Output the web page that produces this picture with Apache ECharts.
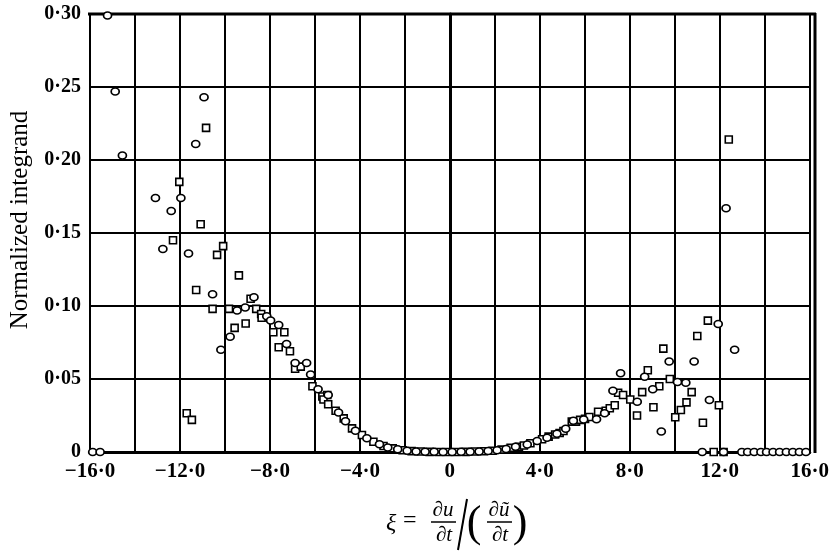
<!DOCTYPE html>
<html>
<head>
<meta charset="utf-8">
<script src="https://cdn.jsdelivr.net/npm/echarts@6/dist/echarts.min.js"></script>
<style>
html,body{margin:0;padding:0;background:#fff;}
#chart{width:832px;height:556px;}
</style>
</head>
<body>
<div id="chart"></div>
<script>
// ---- data ----
var xTicks = [-16, -12, -8, -4, 0, 4, 8, 12, 16];
var yTicks = [0, 0.05, 0.10, 0.15, 0.20, 0.25, 0.30];
var yAxisTitle = 'Normalized integrand';

var circleX = [-15.88, -15.55, -15.22, -14.88, -14.56, -13.09, -12.76, -12.39, -11.96, -11.62,
  -11.30, -10.93, -10.55, -10.18, -9.77, -9.46, -9.10, -8.71, -8.14, -7.97,
  -7.61, -7.26, -6.88, -6.37, -6.19, -5.86, -5.41, -4.95, -4.64, -4.20,
  -3.69, -3.13, -2.76, -2.32, -1.9, -1.5, -1.1, -0.7, -0.3, 0.1,
  0.5, 0.9, 1.3, 1.7, 2.1, 2.5, 2.92, 3.44, 3.88, 4.32,
  4.76, 5.15, 5.49, 5.95, 6.52, 6.88, 7.25, 7.59, 8.33, 8.66,
  9.02, 9.40, 9.75, 10.12, 10.49, 10.86, 11.54, 11.93, 12.28, 12.66,
  11.22, 12.17, 12.98, 13.24, 13.53, 13.83, 14.08, 14.37, 14.66, 14.96,
  15.25, 15.54, 15.83];
var circleY = [0, 0, 0.299, 0.247, 0.203, 0.174, 0.139, 0.165, 0.174, 0.136,
  0.211, 0.243, 0.108, 0.070, 0.079, 0.097, 0.099, 0.106, 0.093, 0.090,
  0.087, 0.074, 0.061, 0.061, 0.053, 0.043, 0.039, 0.027, 0.021, 0.0145,
  0.0094, 0.0053, 0.003, 0.0018, 0.0008, 0.0004, 0.0002, 0.0001, 0, 0,
  0.0001, 0.0002, 0.0004, 0.0007, 0.0012, 0.002, 0.0036, 0.0052, 0.0075, 0.0098,
  0.0125, 0.016, 0.0214, 0.0222, 0.0224, 0.0265, 0.042, 0.054, 0.0345, 0.0516,
  0.043, 0.014, 0.062, 0.048, 0.0475, 0.062, 0.0356, 0.0877, 0.167, 0.070,
  0, 0, 0, 0, 0, 0, 0, 0, 0, 0,
  0, 0, 0];

var squareX = [-12.03, -12.31, -11.08, -10.84, -10.08, -10.35, -9.38, -11.28, -11.70, -11.47,
  -10.55, -9.82, -8.86, -8.61, -8.39, -8.37, -7.85, -7.36, -9.08, -9.57,
  -7.61, -7.11, -6.88, -6.63, -6.11, -5.67, -5.45, -5.62, -5.41, -5.08,
  -4.72, -4.35, -3.91, -3.40, -2.95, -2.54, -2.1, -1.7, -1.3, -0.9,
  -0.5, -0.1, 0.3, 0.7, 1.1, 1.5, 1.9, 2.3, 2.7, 3.07,
  3.29, 3.58, 4.10, 4.39, 4.68, 4.88, 5.05, 5.42, 5.61, 5.79,
  6.01, 6.20, 6.59, 6.93, 7.11, 7.33, 7.48, 7.70, 8.02, 8.32,
  8.55, 8.80, 9.05, 9.31, 9.49, 9.78, 10.02, 10.27, 10.52, 10.75,
  11.00, 11.25, 11.47, 11.96, 12.40, 11.73, 12.17];
var squareY = [0.185, 0.145, 0.156, 0.222, 0.141, 0.135, 0.121, 0.111, 0.0265, 0.022,
  0.098, 0.098, 0.105, 0.098, 0.0945, 0.092, 0.082, 0.082, 0.088, 0.085,
  0.0717, 0.069, 0.057, 0.0585, 0.045, 0.038, 0.039, 0.036, 0.0327, 0.0283,
  0.023, 0.0162, 0.0116, 0.007, 0.0041, 0.0025, 0.0012, 0.0006, 0.0003, 0.0001,
  0, 0, 0, 0.0001, 0.0003, 0.0005, 0.0009, 0.0016, 0.0028, 0.0035,
  0.0045, 0.006, 0.0087, 0.0105, 0.012, 0.013, 0.0144, 0.0208, 0.0208, 0.022,
  0.0227, 0.024, 0.0276, 0.0283, 0.030, 0.032, 0.0406, 0.039, 0.036, 0.025,
  0.041, 0.056, 0.0306, 0.045, 0.0708, 0.050, 0.0238, 0.0288, 0.034, 0.041,
  0.0795, 0.020, 0.090, 0.032, 0.214, 0, 0];

function zip(a, b) { return a.map(function (v, i) { return [v, b[i]]; }); }

function fmtNum(v, dec) {
  if (Math.abs(v) < 1e-9) return '0';
  var s = Math.abs(v).toFixed(dec).replace('.', '\u00b7');
  return (v < 0 ? '\u2212' : '') + s;
}

var serif = 'Liberation Serif';
var chart = echarts.init(document.getElementById('chart'), null, {renderer: 'canvas'});

chart.setOption({
  backgroundColor: '#fff',
  animation: false,
  grid: {left: 89, right: 17, top: 14, bottom: 104, show: false},
  xAxis: {
    type: 'value', min: -16, max: 16, interval: 2,
    axisLine: {show: true, onZero: false, lineStyle: {color: '#000', width: 3}},
    axisTick: {show: false},
    splitLine: {show: true, lineStyle: {color: '#000', width: 2}},
    axisLabel: {
      margin: 9, color: '#000', fontFamily: serif, fontSize: 21, fontWeight: 'bold',
      formatter: function (v) { return xTicks.indexOf(v) >= 0 ? fmtNum(v, 1) : ''; }
    }
  },
  yAxis: {
    type: 'value', min: 0, max: 0.30, interval: 0.05,
    name: yAxisTitle, nameLocation: 'middle', nameRotate: 90, nameGap: 57,
    nameTextStyle: {color: '#000', fontFamily: serif, fontSize: 25, padding: [0, 0, 0, 26]},
    axisLine: {show: true, lineStyle: {color: '#000', width: 3}},
    axisTick: {show: false},
    splitLine: {show: true, lineStyle: {color: '#000', width: 2}},
    axisLabel: {
      margin: 9, color: '#000', fontFamily: serif, fontSize: 20, fontWeight: 'bold',
      formatter: function (v) {
        for (var i = 0; i < yTicks.length; i++) {
          if (Math.abs(v - yTicks[i]) < 1e-6) return fmtNum(yTicks[i], 2);
        }
        return '';
      }
    }
  },
  graphic: [
    // plot frame (top and right borders)
    {type: 'line', shape: {x1: 88, y1: 14, x2: 816, y2: 14}, style: {stroke: '#000', lineWidth: 3}, z: 1},
    {type: 'line', shape: {x1: 815, y1: 13, x2: 815, y2: 453}, style: {stroke: '#000', lineWidth: 3}, z: 1},
    // x-axis title: xi = (du/dt) / (d u~ / dt)
    {type: 'text', x: 386, y: 524, style: {text: '\u03be', textVerticalAlign: 'middle', fontFamily: serif, fontStyle: 'italic', fontSize: 24, fill: '#000'}},
    {type: 'text', x: 403, y: 521, style: {text: '=', textVerticalAlign: 'middle', fontFamily: serif, fontSize: 24, fill: '#000'}},
    {type: 'text', x: 443, y: 510, style: {text: '\u2202u', textAlign: 'center', textVerticalAlign: 'middle', fontFamily: serif, fontStyle: 'italic', fontSize: 21, fill: '#000'}},
    {type: 'line', shape: {x1: 431, y1: 522, x2: 456, y2: 522}, style: {stroke: '#000', lineWidth: 1.5}},
    {type: 'text', x: 444, y: 535, style: {text: '\u2202t', textAlign: 'center', textVerticalAlign: 'middle', fontFamily: serif, fontStyle: 'italic', fontSize: 21, fill: '#000'}},
    {type: 'line', shape: {x1: 467, y1: 499, x2: 458, y2: 550}, style: {stroke: '#000', lineWidth: 2}},
    {type: 'text', x: 474, y: 524, style: {text: '(', textAlign: 'center', textVerticalAlign: 'middle', fontFamily: serif, fontSize: 44, fill: '#000'}},
    {type: 'text', x: 499, y: 510, style: {text: '\u2202\u0169', textAlign: 'center', textVerticalAlign: 'middle', fontFamily: serif, fontStyle: 'italic', fontSize: 21, fill: '#000'}},
    {type: 'line', shape: {x1: 487, y1: 522, x2: 512, y2: 522}, style: {stroke: '#000', lineWidth: 1.5}},
    {type: 'text', x: 500, y: 535, style: {text: '\u2202t', textAlign: 'center', textVerticalAlign: 'middle', fontFamily: serif, fontStyle: 'italic', fontSize: 21, fill: '#000'}},
    {type: 'text', x: 520, y: 524, style: {text: ')', textAlign: 'center', textVerticalAlign: 'middle', fontFamily: serif, fontSize: 44, fill: '#000'}}
  ],
  series: [
    {
      name: 'circles', type: 'scatter', data: zip(circleX, circleY),
      symbol: 'circle', symbolSize: [8, 7],
      itemStyle: {color: '#fff', borderColor: '#000', borderWidth: 1.6, opacity: 1},
      z: 5
    },
    {
      name: 'squares', type: 'scatter', data: zip(squareX, squareY),
      symbol: 'rect', symbolSize: 7,
      itemStyle: {color: '#fff', borderColor: '#000', borderWidth: 1.6, opacity: 1},
      z: 4
    }
  ]
});
</script>
</body>
</html>
